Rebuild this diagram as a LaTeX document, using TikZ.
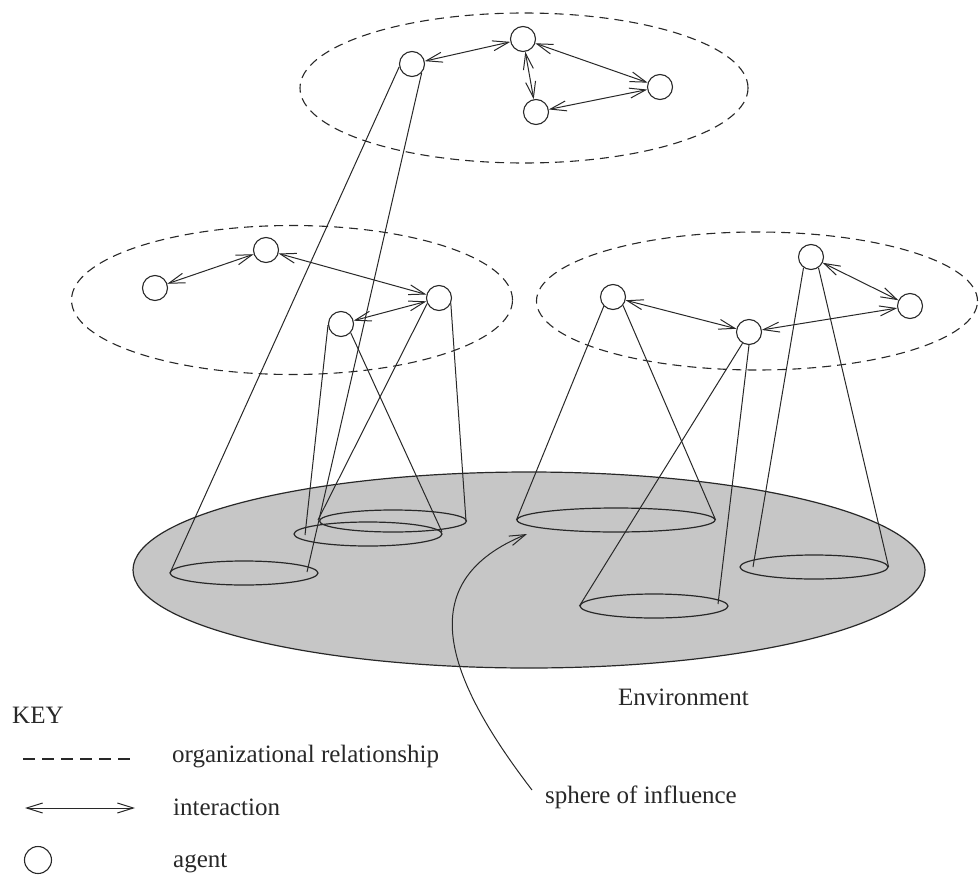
\documentclass[tikz,border=0pt]{standalone}
\usepackage{fontspec}
\setmainfont{Liberation Serif}
\usetikzlibrary{arrows.meta,shapes.geometric}
\pgfdeclarelayer{background}
\pgfsetlayers{background,main}
\definecolor{ink}{RGB}{40,40,40}
\definecolor{envgray}{RGB}{198,198,198}
\tikzset{
  agent/.style={circle,draw=ink,fill=white,line width=1.1pt,minimum size=25pt,inner sep=0pt},
  group/.style={ellipse,draw=ink,line width=1.1pt,dash pattern=on 9pt off 6pt,inner sep=0pt},
  sphere/.style={ellipse,draw=ink,line width=1.2pt,inner sep=0pt},
  env/.style={ellipse,draw=ink,fill=envgray,line width=1.2pt,inner sep=0pt},
  cone/.style={draw=ink,line width=1pt},
  barb/.style={Straight Barb[length=16pt,width=10pt]},
  inter/.style={draw=ink,line width=1pt,{Straight Barb[length=16pt,width=10pt]}-{Straight Barb[length=16pt,width=10pt]}},
  lbl/.style={inner sep=0pt,anchor=base west,text=ink,font=\fontsize{25}{29}\selectfont}
}
\begin{document}
\begin{tikzpicture}[x=1pt,y=-1pt]
\useasboundingbox (0,0) rectangle (979,875);
\begin{pgfonlayer}{background}
% environment
\node[env,minimum width=792pt,minimum height=196pt] (Env) at (529,570) {};
% spheres of influence
\node[sphere,minimum width=148pt,minimum height=24pt] (S1) at (244,573) {};
\node[sphere,minimum width=148pt,minimum height=24pt] (S2) at (368,534) {};
\node[sphere,minimum width=147pt,minimum height=22pt] (S3) at (393,521) {};
\node[sphere,minimum width=198pt,minimum height=24pt] (S4) at (616,520) {};
\node[sphere,minimum width=148pt,minimum height=24pt] (S5) at (654,606) {};
\node[sphere,minimum width=148pt,minimum height=24pt] (S6) at (814,567) {};
% organizations
\node[group,minimum width=448pt,minimum height=150pt] (G1) at (524,88) {};
\node[group,minimum width=441pt,minimum height=149pt] (G2) at (292,300) {};
\node[group,minimum width=441pt,minimum height=138pt] (G3) at (757,301) {};
\end{pgfonlayer}
% agents
\node[agent] (A1) at (412,64) {};
\node[agent] (A2) at (523,39) {};
\node[agent] (A3) at (536,112) {};
\node[agent] (A4) at (660,87) {};
\node[agent] (L1) at (155,288) {};
\node[agent] (L2) at (266,250) {};
\node[agent] (L3) at (439,298) {};
\node[agent] (L4) at (341,324) {};
\node[agent] (R1) at (613,297) {};
\node[agent] (R2) at (749,332) {};
\node[agent] (R3) at (811,257) {};
\node[agent] (R4) at (910,306) {};
% cone end points on the spheres
\coordinate (e1a) at (170,573);
\coordinate (e1b) at (307,572);
\coordinate (e2a) at (305,535);
\coordinate (e2b) at (442,532);
\coordinate (e3a) at (318,520);
\coordinate (e3b) at (466,521);
\coordinate (e5b) at (718,604);
\coordinate (e6a) at (753,567);
\begin{pgfonlayer}{background}
\draw[cone] (A1.192) -- (e1a);
\draw[cone] (A1.318) -- (e1b);
\draw[cone] (L4.185) -- (e2a);
\draw[cone] (L4.318) -- (e2b);
\draw[cone] (L3.205) -- (e3a);
\draw[cone] (L3.335) -- (e3b);
\draw[cone] (R1.225) -- (S4.west);
\draw[cone] (R1.320) -- (S4.east);
\draw[cone] (R2.240) -- (S5.west);
\draw[cone] (R2.270) -- (e5b);
\draw[cone] (R3.235) -- (e6a);
\draw[cone] (R3.305) -- (S6.east);
\end{pgfonlayer}
% interactions
\draw[inter] (A1) -- (A2);
\draw[inter] (A2) -- (A3);
\draw[inter] (A2) -- (A4);
\draw[inter] (A3) -- (A4);
\draw[inter] (L1) -- (L2);
\draw[inter] (L2) -- (L3);
\draw[inter] (L4) -- (L3);
\draw[inter] (R1) -- (R2);
\draw[inter] (R2) -- (R4);
\draw[inter] (R3) -- (R4);
% labels
\node[lbl] (envlbl) at (618,705) {Environment};
\node[lbl] (soilbl) at (545,803) {sphere of influence};
\coordinate (c0) at (532,790);
\coordinate (c1) at (527,534);
\draw[draw=ink,line width=1pt,-{Straight Barb[length=16pt,width=10pt]}] (c0) .. controls (440,670) and (415,580) .. (c1);
% key
\node[lbl] (key) at (12,723) {KEY};
\coordinate (kd1) at (23,759);
\coordinate (kd2) at (130,759);
\draw[draw=ink,line width=1.1pt,dash pattern=on 12pt off 7pt] (kd1) -- (kd2);
\node[lbl] (korg) at (172,762) {organizational relationship};
\coordinate (ka1) at (25,808);
\coordinate (ka2) at (135,808);
\draw[inter] (ka1) -- (ka2);
\node[lbl] (kint) at (173,815) {interaction};
\node[agent,minimum size=27pt] (kag) at (38,860) {};
\node[lbl] (kagl) at (173,867) {agent};
\end{tikzpicture}
\end{document}
